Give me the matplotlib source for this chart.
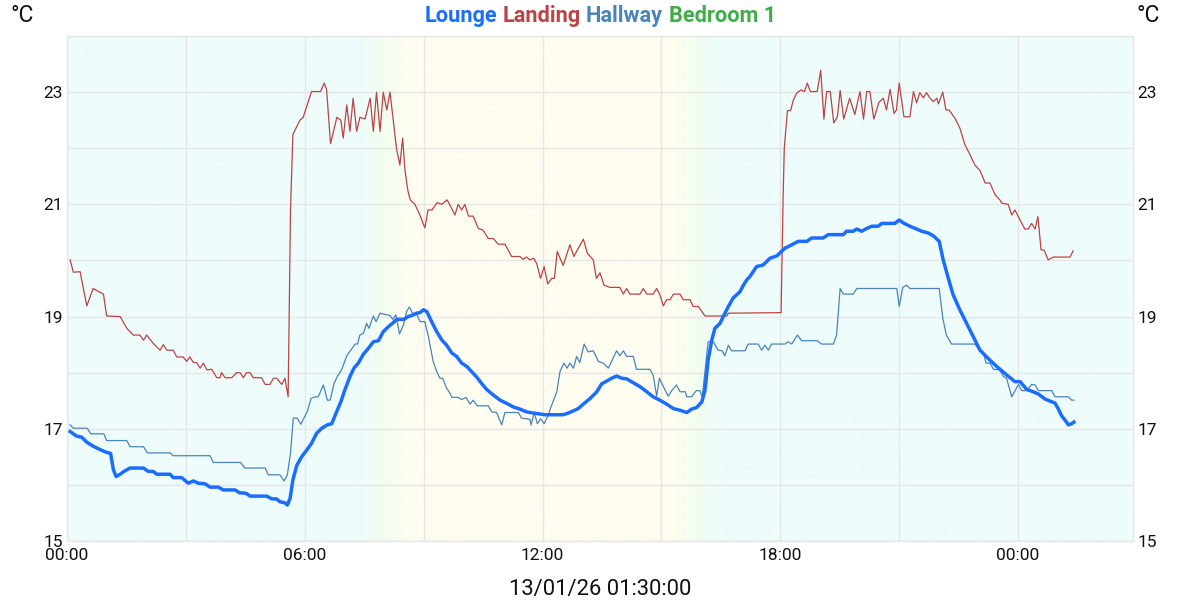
import matplotlib
matplotlib.use("Agg")
import matplotlib.pyplot as plt
import numpy as np
from matplotlib.colors import to_rgb
from matplotlib.offsetbox import TextArea, HPacker, AnchoredOffsetbox

# ---------------- data (hours since 00:00, temperature °C) ----------------
lounge_h = [0.08, 0.24, 0.37, 0.50, 0.66, 0.83, 0.96, 1.10, 1.17, 1.24, 1.34, 1.46, 1.59, 1.93, 2.05,
            2.18, 2.26, 2.60, 2.68, 2.89, 3.06, 3.19, 3.31, 3.48, 3.61, 3.82, 3.94, 4.24, 4.35, 4.52,
            4.62, 5.04, 5.17, 5.29, 5.37, 5.50, 5.56, 5.63, 5.70, 5.80, 5.92, 6.05, 6.17, 6.30, 6.43,
            6.57, 6.68, 6.79, 6.91, 7.01, 7.14, 7.24, 7.35, 7.48, 7.60, 7.73, 7.86, 7.98, 8.11, 8.23,
            8.32, 8.50, 8.61, 8.74, 8.82, 8.91, 8.99, 9.08, 9.20, 9.33, 9.46, 9.58, 9.71, 9.83, 9.96,
            10.09, 10.21, 10.34, 10.46, 10.59, 10.76, 10.93, 11.10, 11.26, 11.43, 11.60, 11.77, 12.06,
            12.52, 12.65, 12.78, 12.90, 13.03, 13.20, 13.37, 13.49, 13.62, 13.74, 13.87, 14.00, 14.12,
            14.29, 14.46, 14.63, 14.79, 14.96, 15.13, 15.30, 15.47, 15.64, 15.76, 15.89, 16.02, 16.10,
            16.18, 16.27, 16.35, 16.48, 16.56, 16.69, 16.81, 16.98, 17.07, 17.15, 17.23, 17.40, 17.57,
            17.74, 17.91, 18.12, 18.29, 18.45, 18.67, 18.79, 19.08, 19.21, 19.59, 19.67, 19.84, 19.93,
            20.05, 20.18, 20.31, 20.47, 20.56, 20.89, 21.00, 21.10, 21.27, 21.44, 21.57, 21.73, 21.86,
            22.01, 22.11, 22.24, 22.36, 22.53, 22.70, 22.87, 23.04, 23.25, 23.46, 23.71, 23.92, 24.05,
            24.22, 24.38, 24.51, 24.68, 24.85, 24.93, 25.01, 25.10, 25.18, 25.27, 25.35, 25.41]
lounge_t = [16.95, 16.87, 16.85, 16.76, 16.69, 16.63, 16.59, 16.56, 16.27, 16.15, 16.19, 16.25, 16.30, 16.30, 16.24,
            16.24, 16.19, 16.19, 16.13, 16.13, 16.03, 16.07, 16.03, 16.02, 15.96, 15.96, 15.91, 15.91, 15.86, 15.85,
            15.80, 15.80, 15.75, 15.75, 15.70, 15.68, 15.64, 15.76, 16.09, 16.35, 16.50, 16.62, 16.74, 16.92, 17.01,
            17.07, 17.09, 17.28, 17.48, 17.69, 17.93, 18.08, 18.17, 18.33, 18.43, 18.55, 18.57, 18.73, 18.82, 18.89,
            18.95, 18.95, 19.00, 19.03, 19.06, 19.07, 19.12, 19.09, 18.91, 18.73, 18.58, 18.49, 18.35, 18.29, 18.17,
            18.11, 18.02, 17.92, 17.81, 17.70, 17.60, 17.51, 17.45, 17.39, 17.35, 17.30, 17.28, 17.25,
            17.25, 17.28, 17.32, 17.36, 17.44, 17.54, 17.66, 17.80, 17.85, 17.90, 17.94, 17.90, 17.89,
            17.82, 17.75, 17.66, 17.57, 17.51, 17.44, 17.36, 17.33, 17.29, 17.35, 17.38, 17.48, 17.69,
            18.23, 18.58, 18.79, 18.88, 19.00, 19.18, 19.33, 19.44, 19.56, 19.65, 19.71, 19.89, 19.92,
            20.04, 20.08, 20.22, 20.28, 20.34, 20.34, 20.40, 20.40, 20.46, 20.46, 20.52, 20.52, 20.56,
            20.52, 20.57, 20.61, 20.61, 20.66, 20.66, 20.72, 20.67, 20.61, 20.56, 20.52, 20.49, 20.44,
            20.34, 20.01, 19.68, 19.39, 19.12, 18.88, 18.64, 18.40, 18.25, 18.11, 17.96, 17.84, 17.84,
            17.70, 17.66, 17.62, 17.53, 17.48, 17.46, 17.36, 17.23, 17.16, 17.07, 17.09, 17.12]

landing_h = [0.08, 0.16, 0.33, 0.50, 0.66, 0.92, 1.00, 1.34, 1.51, 1.67, 1.84, 1.93, 2.01, 2.18, 2.35,
             2.43, 2.52, 2.68, 2.77, 2.93, 3.02, 3.10, 3.19, 3.27, 3.36, 3.44, 3.53, 3.65, 3.78, 3.86,
             3.90, 3.99, 4.16, 4.28, 4.37, 4.45, 4.53, 4.62, 4.70, 4.91, 5.00, 5.12, 5.21, 5.29, 5.42,
             5.50, 5.58, 5.64, 5.70, 5.78, 5.88, 5.96, 6.17, 6.40, 6.49, 6.55, 6.65, 6.81, 6.91, 6.97,
             7.06, 7.14, 7.22, 7.31, 7.39, 7.52, 7.65, 7.73, 7.81, 7.90, 7.98, 8.07, 8.15, 8.32, 8.40,
             8.47, 8.53, 8.60, 8.66, 8.78, 8.91, 9.03, 9.11, 9.21, 9.34, 9.46, 9.59, 9.66, 9.79, 9.87,
             9.96, 10.04, 10.13, 10.25, 10.38, 10.50, 10.63, 10.76, 10.88, 11.05, 11.22, 11.43, 11.51,
             11.60, 11.68, 11.77, 11.85, 11.95, 12.04, 12.13, 12.23, 12.30, 12.37, 12.52, 12.69, 12.79,
             13.03, 13.13, 13.28, 13.36, 13.45, 13.55, 13.70, 13.95, 14.04, 14.12, 14.21, 14.46, 14.54,
             14.63, 14.79, 14.88, 14.96, 15.05, 15.13, 15.22, 15.30, 15.47, 15.55, 15.72, 15.80, 15.93,
             16.10, 16.65, 16.69, 18.02, 18.07, 18.10, 18.18, 18.26, 18.33, 18.41, 18.52, 18.61, 18.68,
             18.76, 18.93, 19.02, 19.10, 19.17, 19.26, 19.35, 19.44, 19.51, 19.60, 19.75, 19.88, 20.01,
             20.10, 20.18, 20.26, 20.36, 20.49, 20.60, 20.68, 20.77, 20.87, 20.93, 21.00, 21.12, 21.27,
             21.36, 21.44, 21.52, 21.61, 21.69, 21.78, 21.86, 21.95, 21.99, 22.10, 22.18, 22.26, 22.41,
             22.53, 22.66, 22.79, 22.91, 23.04, 23.17, 23.29, 23.42, 23.54, 23.59, 23.75, 23.84, 23.92,
             24.05, 24.17, 24.26, 24.34, 24.43, 24.50, 24.58, 24.66, 24.76, 24.89, 25.31, 25.39]
landing_t = [20.01, 19.79, 19.80, 19.19, 19.50, 19.40, 19.01, 19.00, 18.79, 18.67, 18.67, 18.58, 18.67, 18.52, 18.40,
             18.50, 18.40, 18.40, 18.28, 18.28, 18.20, 18.28, 18.18, 18.18, 18.08, 18.17, 18.05, 18.06, 17.91, 17.91,
             18.00, 17.91, 17.91, 18.00, 18.00, 17.91, 18.00, 18.00, 17.91, 17.91, 17.79, 17.79, 17.90, 17.90, 17.79,
             17.90, 17.57, 20.90, 22.24, 22.36, 22.50, 22.55, 23.01, 23.01, 23.16, 23.05, 22.08, 22.55, 22.50, 22.18,
             22.77, 22.30, 22.89, 22.30, 22.55, 22.52, 22.89, 22.30, 23.00, 22.30, 23.00, 22.68, 23.00, 21.97, 21.70,
             22.18, 21.60, 21.25, 21.08, 21.00, 20.80, 20.58, 20.90, 20.90, 21.03, 21.00, 21.08, 20.99, 20.81, 21.00,
             20.90, 21.00, 20.79, 20.79, 20.57, 20.54, 20.39, 20.39, 20.29, 20.29, 20.07, 20.07, 20.02,
             20.06, 20.01, 20.04, 19.95, 19.68, 19.89, 19.58, 19.68, 19.68, 20.16, 19.91, 20.28, 20.07,
             20.38, 20.13, 20.01, 19.68, 19.78, 19.56, 19.52, 19.52, 19.40, 19.50, 19.40, 19.40, 19.50,
             19.40, 19.40, 19.50, 19.39, 19.19, 19.30, 19.30, 19.40, 19.40, 19.30, 19.30, 19.18, 19.18,
             19.01, 19.01, 19.06, 19.07, 21.08, 22.00, 22.67, 22.67, 22.86, 22.98, 23.04, 23.01, 23.16,
             23.01, 23.01, 23.39, 22.52, 23.01, 23.01, 22.45, 22.56, 23.03, 22.52, 22.89, 22.60, 23.01,
             22.52, 23.01, 23.01, 22.52, 22.82, 22.89, 22.68, 23.05, 22.62, 22.68, 23.16, 22.56, 22.56,
             23.01, 22.81, 22.99, 22.90, 22.99, 22.89, 22.83, 22.89, 22.79, 23.00, 22.68, 22.68, 22.53,
             22.36, 22.06, 21.88, 21.70, 21.60, 21.38, 21.38, 21.17, 21.08, 21.02, 21.00, 20.81, 20.90,
             20.72, 20.56, 20.56, 20.66, 20.56, 20.78, 20.19, 20.18, 20.01, 20.06, 20.06, 20.17]

hallway_h = [0.08, 0.16, 0.51, 0.60, 0.93, 1.00, 1.51, 1.59, 1.93, 2.03, 2.60, 2.68, 3.61, 3.69, 4.38,
             4.49, 5.00, 5.08, 5.37, 5.48, 5.56, 5.64, 5.71, 5.81, 5.90, 6.06, 6.16, 6.26, 6.34, 6.47,
             6.57, 6.64, 6.74, 6.82, 6.93, 7.06, 7.16, 7.27, 7.33, 7.39, 7.48, 7.56, 7.62, 7.73, 7.80,
             7.90, 8.07, 8.15, 8.22, 8.30, 8.39, 8.49, 8.57, 8.64, 8.72, 8.81, 8.91, 9.03, 9.12, 9.24,
             9.33, 9.41, 9.48, 9.58, 9.66, 9.71, 9.87, 9.96, 10.07, 10.17, 10.25, 10.35, 10.63, 10.72,
             10.84, 10.97, 11.05, 11.39, 11.47, 11.68, 11.71, 11.79, 11.87, 11.95, 12.04, 12.13, 12.23,
             12.36, 12.44, 12.54, 12.62, 12.69, 12.78, 12.86, 12.94, 13.05, 13.15, 13.28, 13.41, 13.53,
             13.66, 13.87, 13.95, 14.04, 14.12, 14.29, 14.37, 14.71, 14.79, 14.88, 14.95, 15.05, 15.17,
             15.26, 15.38, 15.47, 15.60, 15.64, 15.76, 15.88, 15.97, 16.03, 16.18, 16.31, 16.43, 16.53,
             16.60, 16.69, 16.77, 17.11, 17.19, 17.44, 17.53, 17.61, 17.70, 17.78, 18.12, 18.20, 18.29,
             18.43, 18.54, 18.93, 19.04, 19.34, 19.42, 19.51, 19.59, 19.84, 19.93, 20.94, 21.00, 21.09,
             21.19, 21.27, 22.01, 22.10, 22.19, 22.32, 22.91, 23.04, 23.12, 23.19, 23.29, 23.38, 23.54,
             23.63, 23.71, 23.84, 24.01, 24.09, 24.22, 24.34, 24.43, 24.51, 24.85, 24.93, 25.27, 25.35,
             25.41]
hallway_t = [17.07, 17.01, 17.01, 16.91, 16.91, 16.79, 16.79, 16.68, 16.68, 16.57, 16.57, 16.52, 16.52, 16.40, 16.40,
             16.30, 16.30, 16.18, 16.18, 16.07, 16.18, 16.56, 17.19, 17.19, 17.08, 17.30, 17.54, 17.57, 17.57, 17.78,
             17.51, 17.51, 17.81, 17.93, 18.05, 18.30, 18.40, 18.51, 18.51, 18.67, 18.70, 18.88, 18.79, 19.01, 18.91,
             19.06, 19.03, 19.02, 18.95, 19.03, 18.69, 18.85, 19.09, 19.17, 19.06, 19.06, 18.91, 18.91, 18.64, 18.20,
             18.02, 17.90, 17.90, 17.72, 17.64, 17.56, 17.56, 17.52, 17.56, 17.44, 17.51, 17.41, 17.41, 17.30,
             17.29, 17.07, 17.29, 17.29, 17.19, 17.17, 17.07, 17.29, 17.09, 17.18, 17.09, 17.22, 17.42,
             17.66, 18.02, 18.17, 18.08, 18.17, 18.08, 18.29, 18.18, 18.51, 18.37, 18.39, 18.20, 18.17,
             18.08, 18.39, 18.30, 18.39, 18.29, 18.29, 18.06, 18.06, 17.96, 17.58, 17.90, 17.75, 17.58,
             17.68, 17.78, 17.66, 17.66, 17.57, 17.57, 17.68, 17.68, 17.57, 18.55, 18.55, 18.40, 18.39,
             18.30, 18.49, 18.39, 18.39, 18.51, 18.51, 18.40, 18.49, 18.40, 18.51, 18.51, 18.55, 18.51,
             18.67, 18.57, 18.57, 18.51, 18.51, 18.67, 19.50, 19.40, 19.40, 19.50, 19.50, 19.18, 19.52,
             19.56, 19.50, 19.50, 18.97, 18.67, 18.51, 18.51, 18.39, 18.37, 18.17, 18.17, 18.06, 18.05,
             17.93, 17.90, 17.57, 17.79, 17.68, 17.68, 17.79, 17.78, 17.68, 17.68, 17.57, 17.57, 17.51,
             17.51]

x_tick_hours = [0, 6, 12, 18, 24]
x_tick_labels = ["00:00", "06:00", "12:00", "18:00", "00:00"]
y_tick_values = [15, 17, 19, 21, 23]
legend_names = ["Lounge", "Landing", "Hallway", "Bedroom 1"]
footer_text = "13/01/26 01:30:00"

# ---------------- style ----------------
FONT = "Roboto"
C_LOUNGE = "#1a6dff"
C_LANDING = "#b94446"
C_HALLWAY = "#4a84b8"
C_BED = "#3fae49"
legend_colors = [C_LOUNGE, C_LANDING, C_HALLWAY, C_BED]
GRID = "#e6e6e6"

fig = plt.figure(figsize=(12, 6), dpi=100)
ax = fig.add_axes([67 / 1200, 59 / 600, 1066 / 1200, 505 / 600])
XMAX = 26.9
ax.set_xlim(0, XMAX)
ax.set_ylim(15, 24)

# day/night background gradient
night = np.array(to_rgb("#eefcfc"))
dawn = np.array(to_rgb("#f2fdf1"))
day = np.array(to_rgb("#fefdf0"))
stops = [(0, night), (7.3, night), (7.95, dawn), (8.65, day), (15.3, day), (15.95, dawn), (16.6, night), (XMAX, night)]
xs = np.linspace(0, XMAX, 1200)
sh = np.array([s[0] for s in stops])
img = np.zeros((1, len(xs), 3))
for c in range(3):
    img[0, :, c] = np.interp(xs, sh, [s[1][c] for s in stops])
ax.imshow(img, extent=(0, XMAX, 15, 24), aspect="auto", zorder=-2, interpolation="bilinear")

ax.set_xticks(x_tick_hours)
ax.set_xticklabels(x_tick_labels)
ax.set_xticks([3, 9, 15, 21], minor=True)
ax.set_yticks(y_tick_values)
ax.set_yticks([16, 18, 20, 22, 24], minor=True)
ax.grid(True, which="both", color=GRID, linewidth=1.0)
ax.set_axisbelow(True)
ax.tick_params(which="both", length=0)
ax.tick_params(axis="y", labelleft=True, labelright=True, pad=3, labelsize=12.5)
ax.tick_params(axis="x", pad=5, labelsize=12.5)
for lab in ax.get_xticklabels() + ax.get_yticklabels():
    lab.set_fontfamily(FONT)
    lab.set_color("#111111")
for sp in ax.spines.values():
    sp.set_color(GRID)
    sp.set_linewidth(1.0)

ax.plot(landing_h, landing_t, color=C_LANDING, linewidth=0.9, zorder=3)
ax.plot(hallway_h, hallway_t, color=C_HALLWAY, linewidth=0.9, zorder=3)
ax.plot(lounge_h, lounge_t, color=C_LOUNGE, linewidth=2.5, zorder=4, solid_joinstyle="round")

# unit labels
fig.text(10 / 1200, 1 - 15 / 600, "°C", ha="left", va="center", fontsize=16.5, family=FONT, color="#111111")
fig.text(1137 / 1200, 1 - 15 / 600, "°C", ha="left", va="center", fontsize=16.5, family=FONT, color="#111111")

# coloured title legend
parts = [TextArea(n, textprops=dict(color=c, fontsize=15.7, fontweight="bold", family=FONT))
         for n, c in zip(legend_names, legend_colors)]
box = HPacker(children=parts, align="baseline", pad=0, sep=4)
anch = AnchoredOffsetbox(loc="center", child=box, pad=0, frameon=False, borderpad=0,
                         bbox_to_anchor=(0.5, 1 - 16 / 600), bbox_transform=fig.transFigure)
fig.add_artist(anch)

fig.text(0.5, 1 - 589 / 600, footer_text, ha="center", va="center", fontsize=15.8, family=FONT, color="#111111")

fig.savefig("out.png", dpi=100)
